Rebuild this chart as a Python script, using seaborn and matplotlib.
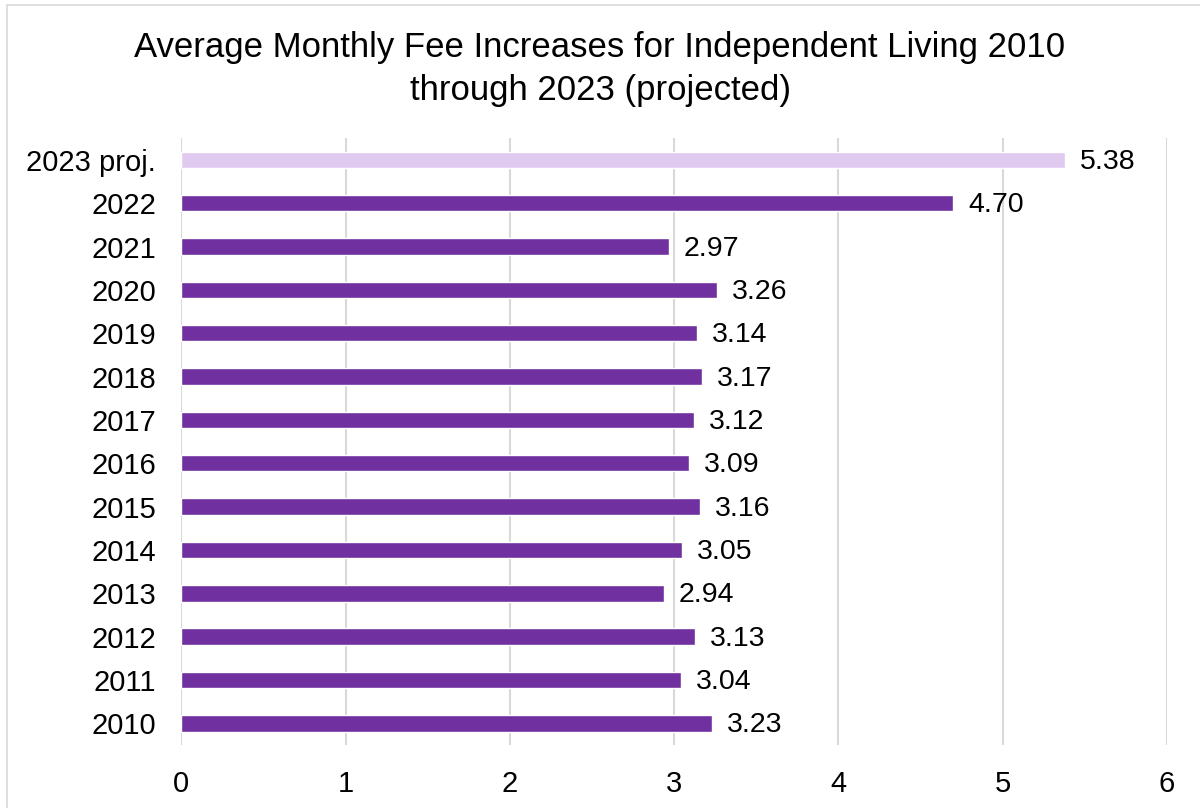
import matplotlib
matplotlib.use('Agg')
import matplotlib.pyplot as plt
import matplotlib.patches as patches
import seaborn as sns
import pandas as pd

# Datos
years = ['2023 proj.', '2022', '2021', '2020', '2019', '2018', '2017',
         '2016', '2015', '2014', '2013', '2012', '2011', '2010']
increases = [5.38, 4.70, 2.97, 3.26, 3.14, 3.17, 3.12,
             3.09, 3.16, 3.05, 2.94, 3.13, 3.04, 3.23]
bar_colors = ['#E0CAF0'] + ['#7030A0'] * 13

df = pd.DataFrame({'year': years, 'increase': increases})

sns.set_style('white')
plt.rcParams['font.family'] = ['Liberation Sans', 'DejaVu Sans']

fig = plt.figure(figsize=(12, 8.08), dpi=100)
ax = fig.add_axes([0.151, 0.078, 0.8215, 0.751])

sns.barplot(data=df, x='increase', y='year', hue='year', palette=bar_colors,
            legend=False, width=0.38, saturation=1, ax=ax)

for i, v in enumerate(increases):
    ax.text(v + 0.09, i + 0.05, f'{v:.2f}', va='center', ha='left', fontsize=20.5, color='black')

ax.set_xlim(0, 6)
ax.set_ylim(13.5, -0.5)
ax.set_xticks(range(0, 7))
ax.grid(axis='x', color='#D9D9D9', linewidth=1.5)
ax.set_axisbelow(True)
for s in ax.spines.values():
    s.set_visible(False)
ax.tick_params(axis='both', length=0, labelsize=21, colors='black')
ax.tick_params(axis='x', pad=18)
ax.tick_params(axis='y', pad=18)
ax.set_xlabel('')
ax.set_ylabel('')

fig.suptitle('Average Monthly Fee Increases for Independent Living 2010\nthrough 2023 (projected)',
             fontsize=25, y=0.962, linespacing=1.38, color='black')

# borde del área del gráfico
fig.patches.append(patches.Rectangle((7 / 1200, -0.01), 1.0, 1 - 5 / 808 + 0.01,
                                     transform=fig.transFigure, fill=False,
                                     edgecolor='#D9D9D9', linewidth=1.2))

plt.savefig('out.png', dpi=100)
plt.close()
